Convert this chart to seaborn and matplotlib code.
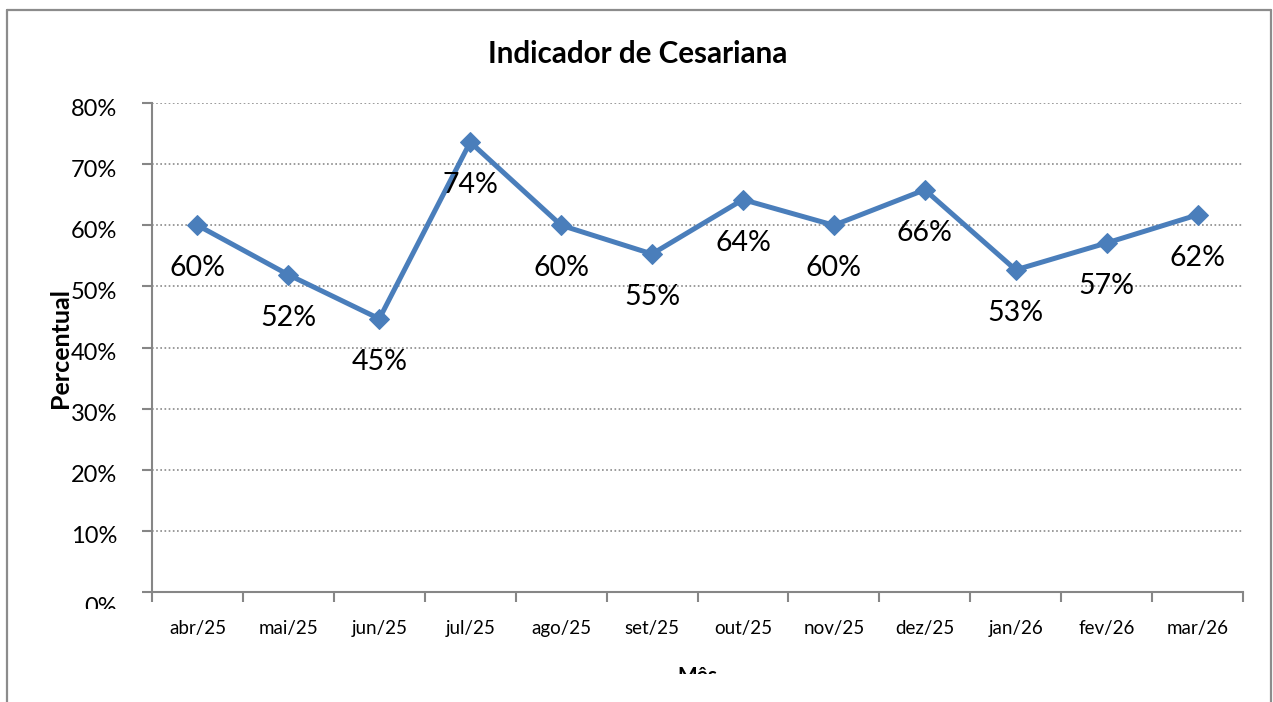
import numpy as np
import pandas as pd
import matplotlib
matplotlib.use("Agg")
import matplotlib.pyplot as plt
import seaborn as sns
from matplotlib.ticker import PercentFormatter, FixedLocator
from matplotlib.transforms import Bbox, TransformedBbox, ScaledTranslation
from matplotlib.lines import Line2D

meses = ['abr/25', 'mai/25', 'jun/25', 'jul/25', 'ago/25', 'set/25',
         'out/25', 'nov/25', 'dez/25', 'jan/26', 'fev/26', 'mar/26']
percentual = [0.600, 0.519, 0.447, 0.736, 0.600, 0.553,
              0.642, 0.600, 0.658, 0.527, 0.571, 0.617]
y_ticks = [0.0, 0.1, 0.2, 0.3, 0.4, 0.5, 0.6, 0.7, 0.8]

df = pd.DataFrame({'Mes': meses, 'Percentual': percentual})

sns.set_style("white")
plt.rcParams['font.family'] = ['Lato', 'DejaVu Sans']
plt.rcParams['text.color'] = 'black'
plt.rcParams['axes.labelcolor'] = 'black'

W, H = 1273, 702
fig = plt.figure(figsize=(W / 100, H / 100), dpi=100)
ax = fig.add_axes([152 / W, 1 - 592 / H, (1243 - 152) / W, (592 - 103) / H])

blue = '#4a7ebb'
sns.lineplot(data=df, x='Mes', y='Percentual', ax=ax, color=blue,
             linewidth=3.6, marker='D', markersize=10,
             markeredgecolor=blue, sort=False)

for i, v in enumerate(percentual):
    ax.annotate(f"{v * 100:.0f}%", (i, v), xytext=(0, -31),
                textcoords='offset points', ha='center', va='center',
                fontsize=20.5, color='black')

ax.set_xlim(-0.5, len(meses) - 0.5)
ax.set_ylim(0, 0.8)
ax.set_yticks(y_ticks)
ax.yaxis.set_major_formatter(PercentFormatter(1.0, decimals=0))
ax.set_xticks(range(len(meses)))
ax.set_xticklabels(meses)
ax.xaxis.set_minor_locator(FixedLocator(np.arange(-0.5, len(meses), 1.0)))

ax.tick_params(axis='y', which='major', direction='out', length=7, width=1.5,
               color='#868686', pad=18, labelsize=17, left=True,
               labelcolor='black')
ax.tick_params(axis='x', which='major', length=0, pad=20, labelsize=13.5,
               bottom=True, labelcolor='black')
ax.tick_params(axis='x', which='minor', direction='out', length=7, width=1.5,
               color='#868686', bottom=True)

for y in y_ticks[1:]:
    ax.axhline(y, color='#8a8a8a', linestyle=(0, (1, 1.5)), linewidth=1.2,
               zorder=0)

for s in ['top', 'right']:
    ax.spines[s].set_visible(False)
for s in ['left', 'bottom']:
    ax.spines[s].set_color('#868686')
    ax.spines[s].set_linewidth(1.5)

ax.set_xlabel('')
ax.set_ylabel('Percentual', fontsize=18, fontweight='bold', va='center',
              color='black')
ax.yaxis.set_label_coords((60 - 152) / 1091, 0.5)

fig.text(638 / W, 1 - 54 / H, 'Indicador de Cesariana', ha='center',
         va='center', fontsize=21.3, fontweight='bold', color='black')

clip = TransformedBbox(Bbox([[0, 28 / H], [1, 1]]), fig.transFigure)
t = fig.text(697 / W, 1 - 666 / H, 'Mês', ha='center', va='top',
             fontsize=15, fontweight='bold', color='black')
t.set_clip_on(True)
t.set_clip_box(clip)

# rótulos do eixo y levemente abaixo das linhas; o 0% fica cortado
fig.canvas.draw()
shift = ScaledTranslation(0, -0.04, fig.dpi_scale_trans)
extra = ScaledTranslation(0, -0.09, fig.dpi_scale_trans)
for k, tick in enumerate(ax.yaxis.get_major_ticks()):
    lbl = tick.label1
    tr = lbl.get_transform() + shift
    if k == 0:
        tr = tr + extra
        lbl.set_clip_on(True)
        lbl.set_clip_box(TransformedBbox(Bbox([[0, 1 - 609 / H], [1, 1]]),
                                         fig.transFigure))
    lbl.set_transform(tr)

border = '#8c8c8c'
fig.add_artist(Line2D([7 / W, 7 / W], [0, 1 - 10 / H], transform=fig.transFigure,
                      color=border, linewidth=1.6))
fig.add_artist(Line2D([7 / W, 1271 / W], [1 - 10 / H, 1 - 10 / H],
                      transform=fig.transFigure, color=border, linewidth=1.6))
fig.add_artist(Line2D([1271 / W, 1271 / W], [0, 1 - 10 / H],
                      transform=fig.transFigure, color=border, linewidth=1.6))

fig.savefig('out.png', dpi=100)
